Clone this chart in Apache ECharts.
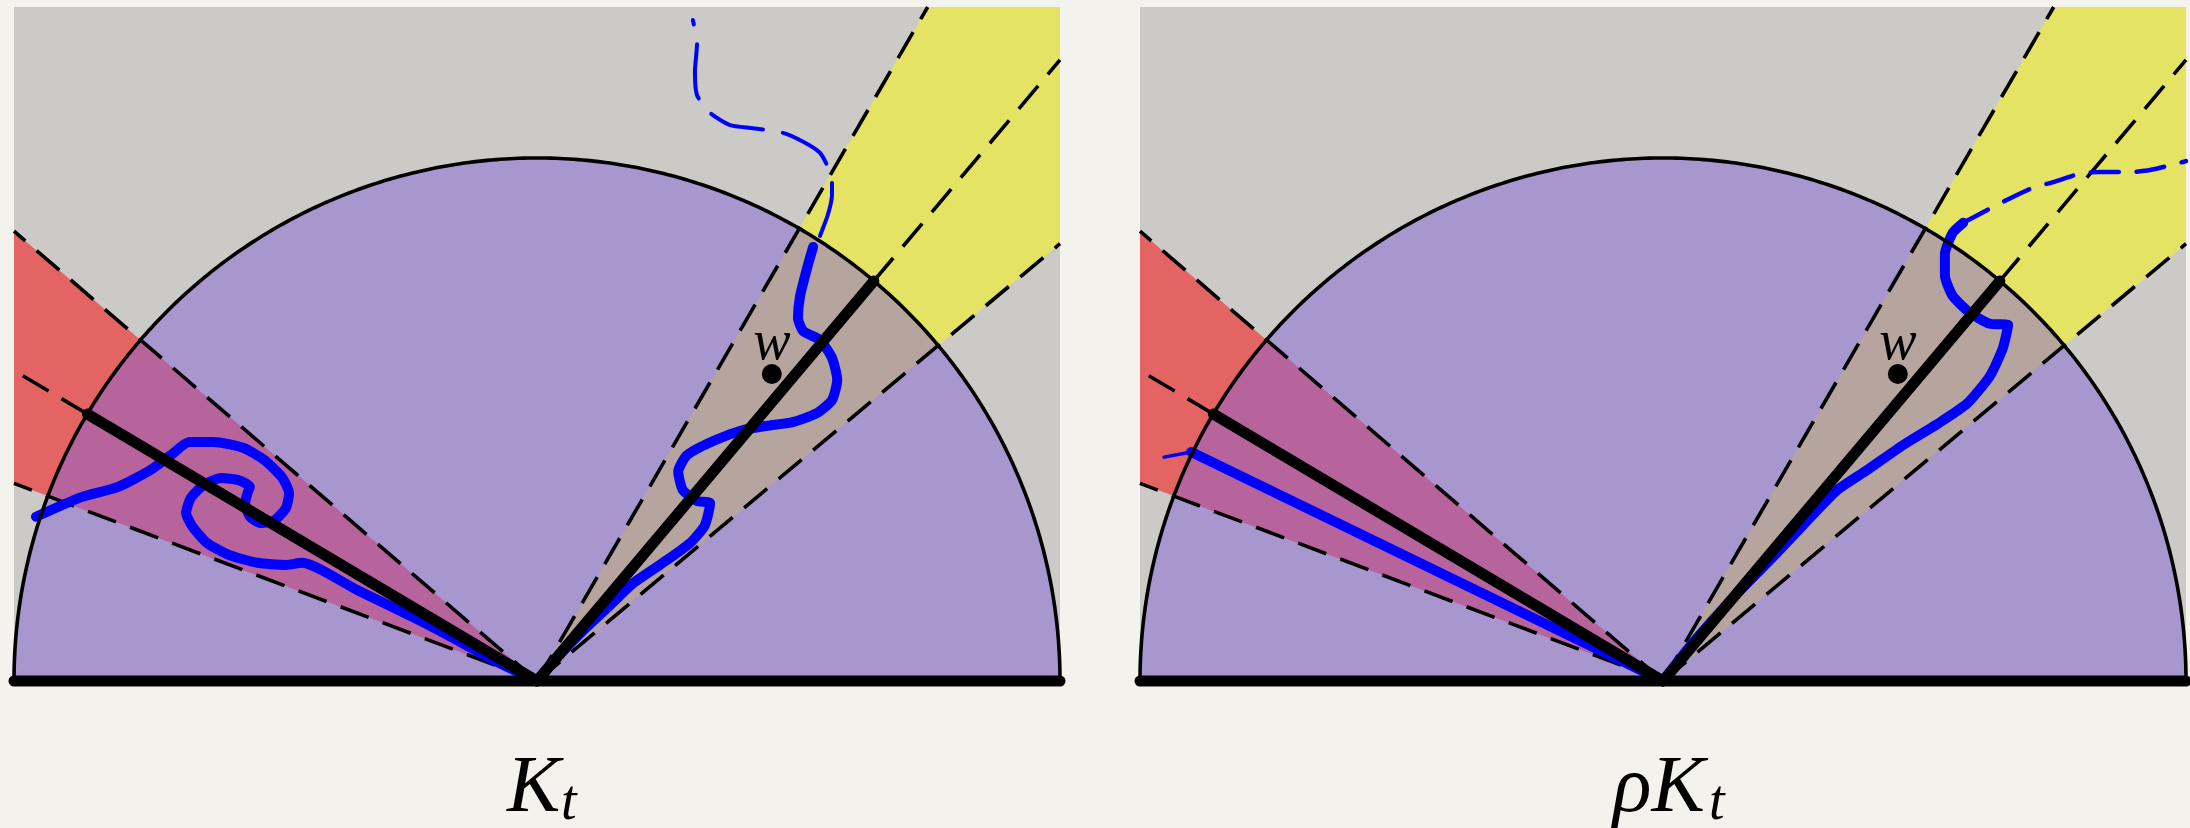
<!DOCTYPE html>
<html>
<head>
<meta charset="utf-8">
<script src="https://cdn.jsdelivr.net/npm/echarts@6/dist/echarts.min.js"></script>
<style>
  html, body { margin: 0; padding: 0; background: #f4f2ed; }
  #chart { width: 2190px; height: 828px; }
</style>
</head>
<body>
<div id="chart"></div>
<script>
// Half-disc picture of the hull K_t and its rescaled copy rho*K_t.
// All geometry is in units of the disc radius; the wedge vertex is the origin.

const panelX = [-1, 1];
const panelY = [0, 1.2887];

// angular wedges (degrees from the positive real axis)
const redWedge = { center: 149.3, halfWidth: 10 };
const yellowWedge = { center: 49.9, halfWidth: 10 };

// the marked interior point w
const wPoint = [[0.449, 0.587]];

// panel captions
const captionMain = ['K', '\u03C1K'];
const captionSub = ['t', 't'];

// left panel: hull boundary inside the red wedge
const leftRedCurve = [
  [-0.958, 0.314], [-0.870, 0.352], [-0.801, 0.371], [-0.740, 0.403], [-0.700, 0.432],
  [-0.665, 0.457], [-0.618, 0.457], [-0.562, 0.446], [-0.522, 0.423], [-0.488, 0.390],
  [-0.474, 0.359], [-0.480, 0.331], [-0.501, 0.308], [-0.528, 0.302], [-0.549, 0.314],
  [-0.558, 0.340], [-0.553, 0.361], [-0.549, 0.371], [-0.570, 0.384], [-0.604, 0.388],
  [-0.637, 0.375], [-0.662, 0.350], [-0.671, 0.321], [-0.658, 0.294], [-0.631, 0.264],
  [-0.589, 0.241], [-0.535, 0.226], [-0.480, 0.222], [-0.449, 0.226], [-0.344, 0.174],
  [-0.207, 0.107], [-0.071, 0.034], [0, 0]
];

// left panel: hull boundary inside the yellow wedge
const leftTanCurve = [
  [0.528, 0.830], [0.516, 0.788], [0.503, 0.736], [0.499, 0.694], [0.509, 0.669],
  [0.541, 0.652], [0.564, 0.618], [0.574, 0.576], [0.564, 0.537], [0.535, 0.512],
  [0.489, 0.495], [0.440, 0.488], [0.394, 0.480], [0.337, 0.459], [0.287, 0.432],
  [0.270, 0.400], [0.279, 0.365], [0.306, 0.344], [0.331, 0.340], [0.321, 0.298],
  [0.293, 0.264], [0.235, 0.222], [0.184, 0.187], [0.140, 0.145], [0.088, 0.096],
  [0.038, 0.044], [0, 0]
];

// left panel: future path leaving the disc
const leftEscape = [
  [0.541, 0.851], [0.556, 0.891], [0.564, 0.929], [0.564, 0.952], [0.556, 0.983],
  [0.541, 1.010], [0.509, 1.031], [0.470, 1.048], [0.413, 1.057], [0.369, 1.063],
  [0.331, 1.086], [0.306, 1.120], [0.302, 1.166], [0.306, 1.218], [0.298, 1.264]
];

// right panel: curves after rescaling
const rightRedCurve = [[-0.902, 0.438], [0, 0]];
const rightRedStub = [[-0.902, 0.438], [-0.954, 0.428]];
const rightTanCurve = [
  [0.574, 0.876], [0.554, 0.857], [0.539, 0.816], [0.539, 0.776], [0.554, 0.736],
  [0.587, 0.704], [0.625, 0.683], [0.660, 0.681], [0.650, 0.637], [0.625, 0.583],
  [0.581, 0.530], [0.524, 0.491], [0.459, 0.451], [0.390, 0.403], [0.333, 0.365],
  [0.281, 0.312], [0.218, 0.245], [0.134, 0.159], [0.057, 0.073], [0, 0]
];
const rightEscape = [
  [0.574, 0.876], [0.621, 0.901], [0.658, 0.920], [0.707, 0.943], [0.746, 0.954],
  [0.801, 0.971], [0.836, 0.973], [0.893, 0.973], [0.931, 0.977], [0.985, 0.990],
  [1.000, 0.994]
];

const COLORS = {
  gray: '#cccac7', purple: '#a896ce', red: '#e46464', pink: '#b7649c',
  yellow: '#e4e364', tan: '#b6a49e', blue: '#0000ff', ink: '#000000'
};

const rad = d => d * Math.PI / 180;
const unit = d => [Math.cos(rad(d)), Math.sin(rad(d))];

// where a ray from the origin leaves the panel box
function exitPoint(deg) {
  const [dx, dy] = unit(deg);
  let t = Infinity;
  if (dx > 1e-9) t = Math.min(t, panelX[1] / dx);
  if (dx < -1e-9) t = Math.min(t, panelX[0] / dx);
  if (dy > 1e-9) t = Math.min(t, panelY[1] / dy);
  return [dx * t, dy * t];
}

// Sutherland-Hodgman clip of a polygon against the panel box
function clipToBox(poly) {
  const edges = [
    p => p[0] >= panelX[0], p => p[0] <= panelX[1],
    p => p[1] >= panelY[0], p => p[1] <= panelY[1]
  ];
  const cross = [
    (a, b) => { const t = (panelX[0] - a[0]) / (b[0] - a[0]); return [panelX[0], a[1] + t * (b[1] - a[1])]; },
    (a, b) => { const t = (panelX[1] - a[0]) / (b[0] - a[0]); return [panelX[1], a[1] + t * (b[1] - a[1])]; },
    (a, b) => { const t = (panelY[0] - a[1]) / (b[1] - a[1]); return [a[0] + t * (b[0] - a[0]), panelY[0]]; },
    (a, b) => { const t = (panelY[1] - a[1]) / (b[1] - a[1]); return [a[0] + t * (b[0] - a[0]), panelY[1]]; }
  ];
  let out = poly;
  for (let e = 0; e < 4; e++) {
    const inp = out; out = [];
    for (let i = 0; i < inp.length; i++) {
      const cur = inp[i], prev = inp[(i + inp.length - 1) % inp.length];
      const ci = edges[e](cur), pi = edges[e](prev);
      if (ci) { if (!pi) out.push(cross[e](prev, cur)); out.push(cur); }
      else if (pi) out.push(cross[e](prev, cur));
    }
  }
  return out;
}

function wedgeFar(w) {
  const a = unit(w.center - w.halfWidth), b = unit(w.center + w.halfWidth);
  return [[0, 0], [a[0] * 3, a[1] * 3], [b[0] * 3, b[1] * 3]];
}

function sector(d0, d1, r) {
  const pts = [[0, 0]];
  const n = Math.max(8, Math.ceil(Math.abs(d1 - d0)));
  for (let i = 0; i <= n; i++) {
    const u = unit(d0 + (d1 - d0) * i / n);
    pts.push([u[0] * r, u[1] * r]);
  }
  return pts;
}

function arcPoints(d0, d1, r) {
  const pts = [];
  const n = 360;
  for (let i = 0; i <= n; i++) {
    const u = unit(d0 + (d1 - d0) * i / n);
    pts.push([u[0] * r, u[1] * r]);
  }
  return pts;
}

const DASH_BLACK = [30, 15];

// background regions and dashed wedge rays
function renderRegions(params, api) {
  const P = p => api.coord(p);
  const poly = (pts, fill) => ({ type: 'polygon', silent: true, shape: { points: pts.map(P) }, style: { fill: fill } });
  const dashed = (a, b) => ({
    type: 'polyline', silent: true, shape: { points: [P(a), P(b)] },
    style: { stroke: COLORS.ink, lineWidth: 3.6, lineDash: DASH_BLACK, fill: null }
  });
  const children = [];
  children.push(poly([[panelX[0], panelY[0]], [panelX[1], panelY[0]], [panelX[1], panelY[1]], [panelX[0], panelY[1]]], COLORS.gray));
  children.push(poly(clipToBox(wedgeFar(redWedge)), COLORS.red));
  children.push(poly(clipToBox(wedgeFar(yellowWedge)), COLORS.yellow));
  children.push(poly(sector(0, 180, 1), COLORS.purple));
  children.push(poly(sector(redWedge.center - redWedge.halfWidth, redWedge.center + redWedge.halfWidth, 1), COLORS.pink));
  children.push(poly(sector(yellowWedge.center - yellowWedge.halfWidth, yellowWedge.center + yellowWedge.halfWidth, 1), COLORS.tan));
  [redWedge, yellowWedge].forEach(w => {
    [w.center - w.halfWidth, w.center + w.halfWidth].forEach(d => children.push(dashed([0, 0], exitPoint(d))));
    children.push(dashed(unit(w.center), exitPoint(w.center)));
  });
  return { type: 'group', children: children };
}

// disc outline, solid wedge axes and the real line
function renderFrame(params, api) {
  const P = p => api.coord(p);
  const children = [];
  children.push({
    type: 'polyline', silent: true, shape: { points: arcPoints(0, 180, 1).map(P) },
    style: { stroke: COLORS.ink, lineWidth: 3.6, fill: null }
  });
  [redWedge, yellowWedge].forEach(w => {
    const a = P([0, 0]), b = P(unit(w.center));
    children.push({
      type: 'line', silent: true, shape: { x1: a[0], y1: a[1], x2: b[0], y2: b[1] },
      style: { stroke: COLORS.ink, lineWidth: 11, lineCap: 'round' }
    });
  });
  const l = P([panelX[0], 0]), r = P([panelX[1], 0]);
  children.push({
    type: 'line', silent: true, shape: { x1: l[0], y1: l[1], x2: r[0], y2: r[1] },
    style: { stroke: COLORS.ink, lineWidth: 11, lineCap: 'round' }
  });
  return { type: 'group', children: children };
}

function thickBlue(data, idx, smooth) {
  return {
    type: 'line', xAxisIndex: idx, yAxisIndex: idx, data: data, symbol: 'none', z: 3,
    silent: true, animation: false, smooth: smooth,
    lineStyle: { color: COLORS.blue, width: 10, cap: 'round', join: 'round' }
  };
}
function dashedBlue(data, idx, dash, width) {
  return {
    type: 'line', xAxisIndex: idx, yAxisIndex: idx, data: data, symbol: 'none', z: 3,
    silent: true, animation: false, smooth: 0.2,
    lineStyle: { color: COLORS.blue, width: width, type: dash, cap: 'round', join: 'round' }
  };
}

const gridLefts = [14, 1140];
const series = [];
[0, 1].forEach(i => {
  series.push({ type: 'custom', xAxisIndex: i, yAxisIndex: i, data: [[0, 0]], renderItem: renderRegions, z: 1, silent: true, animation: false });
  series.push({ type: 'custom', xAxisIndex: i, yAxisIndex: i, data: [[0, 0]], renderItem: renderFrame, z: 5, silent: true, animation: false });
  series.push({
    type: 'scatter', xAxisIndex: i, yAxisIndex: i, data: wPoint, symbol: 'circle', symbolSize: 20, z: 6,
    silent: true, animation: false, itemStyle: { color: COLORS.ink, opacity: 1 },
    label: {
      show: true, position: 'top', distance: 0, offset: [0, 8], formatter: 'w', color: COLORS.ink,
      fontFamily: "'Liberation Serif', 'DejaVu Serif', serif", fontStyle: 'italic', fontSize: 56
    }
  });
});
series.push(thickBlue(leftRedCurve, 0, 0.2));
series.push(thickBlue(leftTanCurve, 0, 0.2));
series.push(dashedBlue(leftEscape, 0, [55, 20], 4));
series.push(thickBlue(rightRedCurve, 1, false));
series.push(dashedBlue(rightRedStub, 1, 'solid', 3.5));
series.push(thickBlue(rightTanCurve, 1, 0.2));
series.push(dashedBlue(rightEscape, 1, [28, 18], 4.5));

const captionFont = "'Liberation Serif', 'DejaVu Serif', serif";
const captionX = [[507, 561], [1613, 1709]];
const graphic = [];
[0, 1].forEach(i => {
  graphic.push({
    type: 'text', x: captionX[i][0], y: 790, silent: true,
    style: { text: captionMain[i], font: 'italic 80px ' + captionFont, fill: COLORS.ink, textAlign: 'left', textVerticalAlign: 'middle' }
  });
  graphic.push({
    type: 'text', x: captionX[i][1], y: 804, silent: true,
    style: { text: captionSub[i], font: 'italic 56px ' + captionFont, fill: COLORS.ink, textAlign: 'left', textVerticalAlign: 'middle' }
  });
});

const chart = echarts.init(document.getElementById('chart'), null, { renderer: 'canvas' });
chart.setOption({
  backgroundColor: '#f4f2ed',
  animation: false,
  grid: gridLefts.map(l => ({ left: l, top: 7, width: 1046, height: 674, containLabel: false })),
  xAxis: [0, 1].map(i => ({ type: 'value', gridIndex: i, min: panelX[0], max: panelX[1], show: false })),
  yAxis: [0, 1].map(i => ({ type: 'value', gridIndex: i, min: panelY[0], max: panelY[1], show: false })),
  series: series,
  graphic: graphic
});
</script>
</body>
</html>
